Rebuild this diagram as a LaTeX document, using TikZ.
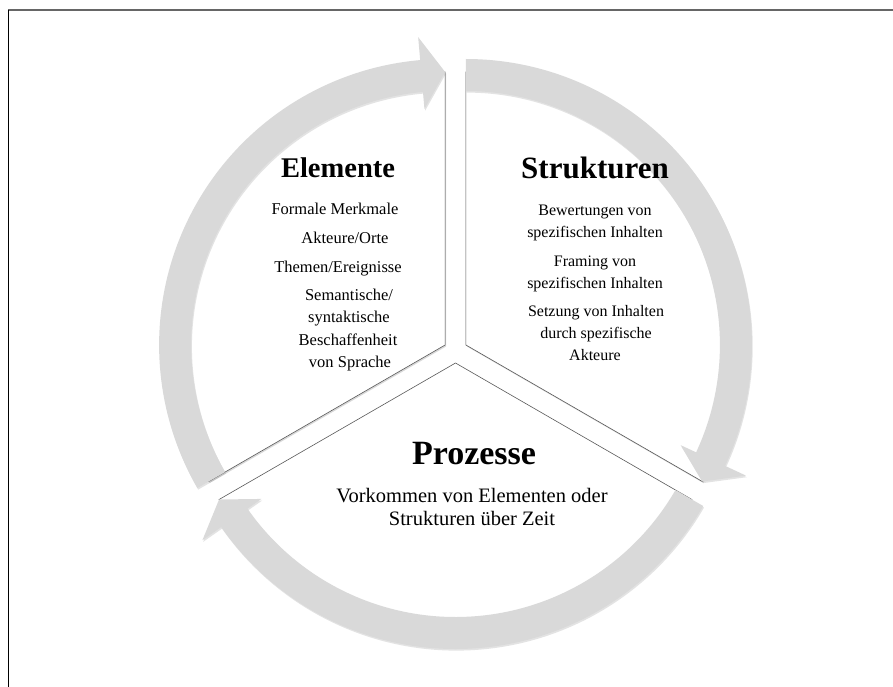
\documentclass[tikz,border=0pt]{standalone}
\usepackage{fontspec}
\setmainfont{Liberation Serif}
\usetikzlibrary{shadows}
\definecolor{arrowgray}{HTML}{D9D9D9}
\definecolor{edgegray}{HTML}{595959}
\begin{document}
\begin{tikzpicture}[x=1pt,y=1pt,
  slice/.style={fill=white, draw=edgegray, line width=0.6pt, drop shadow={opacity=0.3, shadow xshift=1pt, shadow yshift=-1.5pt}},
  arrowseg/.style={fill=arrowgray, draw=none, drop shadow={opacity=0.22, shadow xshift=0.8pt, shadow yshift=-1.6pt}},
  txt/.style={text height=0.7em, text depth=0.2em, inner sep=0pt},
  headtxt/.style={txt, font=\fontsize{28.5}{31}\selectfont\bfseries},
  bodytxt/.style={txt, font=\fontsize{16.5}{19}\selectfont},
  bodyr/.style={txt, font=\fontsize{16}{19}\selectfont},
  bodyb/.style={txt, font=\fontsize{20.5}{22}\selectfont}]
\useasboundingbox (0,0) rectangle (893,-687);
\fill[white] (0,0) rectangle (893,-687);
\draw[gray!80!black, line width=1.2pt] (8,-10) -- (893,-10);
\draw[black, line width=0.9pt] (8,-10) -- (8,-687);

\coordinate (CL) at (445.1,-345);
\coordinate (CR) at (465.9,-345);
\coordinate (CB) at (455.5,-363);

% slices
\path[slice] (CL) -- ++(90:273) arc[start angle=90, end angle=210, radius=273] -- cycle;
\path[slice] (CR) -- ++(-30:273) arc[start angle=-30, end angle=90, radius=273] -- cycle;
\path[slice] (CB) -- ++(210:273) arc[start angle=210, end angle=330, radius=273] -- cycle;

% arrows
\path[arrowseg] ([shift={(210:286)}]CL) arc[start angle=210, end angle=95, radius=286]
  -- ([shift={(95:309)}]CL) -- ([shift={(90:273)}]CL) -- ([shift={(95:237)}]CL)
  -- ([shift={(95:254)}]CL) arc[start angle=95, end angle=210, radius=254] -- cycle;
\path[arrowseg] ([shift={(90:286)}]CR) arc[start angle=90, end angle=-25, radius=286]
  -- ([shift={(-25:309)}]CR) -- ([shift={(-30:273)}]CR) -- ([shift={(-25:237)}]CR)
  -- ([shift={(-25:254)}]CR) arc[start angle=-25, end angle=90, radius=254] -- cycle;
\path[arrowseg] ([shift={(-30:286)}]CB) arc[start angle=-30, end angle=-145, radius=286]
  -- ([shift={(-145:309)}]CB) -- ([shift={(-150:273)}]CB) -- ([shift={(-145:237)}]CB)
  -- ([shift={(-145:254)}]CB) arc[start angle=-145, end angle=-30, radius=254] -- cycle;

% texts
\node[headtxt] (elem) at (338,-175) {Elemente};
\node[bodytxt] (e1) at (335,-212) {Formale Merkmale};
\node[bodytxt] (e2) at (345,-241) {Akteure/Orte};
\node[bodytxt] (e3) at (338,-270) {Themen/Ereignisse};
\node[bodytxt] (e4) at (349,-298) {Semantische/};
\node[bodytxt] (e5) at (349,-320) {syntaktische};
\node[bodytxt] (e6) at (348,-343) {Beschaffenheit};
\node[bodytxt] (e7) at (350,-365) {von Sprache};

\node[headtxt, font=\fontsize{31}{33}\selectfont\bfseries] (str) at (595,-176) {Strukturen};
\node[bodyr] (s1) at (595,-213) {Bewertungen von};
\node[bodyr] (s2) at (595,-235) {spezifischen Inhalten};
\node[bodyr] (s3) at (595,-264) {Framing von};
\node[bodyr] (s4) at (595,-286) {spezifischen Inhalten};
\node[bodyr] (s5) at (596,-314) {Setzung von Inhalten};
\node[bodyr] (s6) at (596,-336) {durch spezifische};
\node[bodyr] (s7) at (595,-358) {Akteure};

\node[headtxt, font=\fontsize{34}{36}\selectfont\bfseries] (proz) at (474,-462) {Prozesse};
\node[bodyb] (p1) at (472,-500) {Vorkommen von Elementen oder};
\node[bodyb] (p2) at (472,-523) {Strukturen über Zeit};
\end{tikzpicture}
\end{document}
